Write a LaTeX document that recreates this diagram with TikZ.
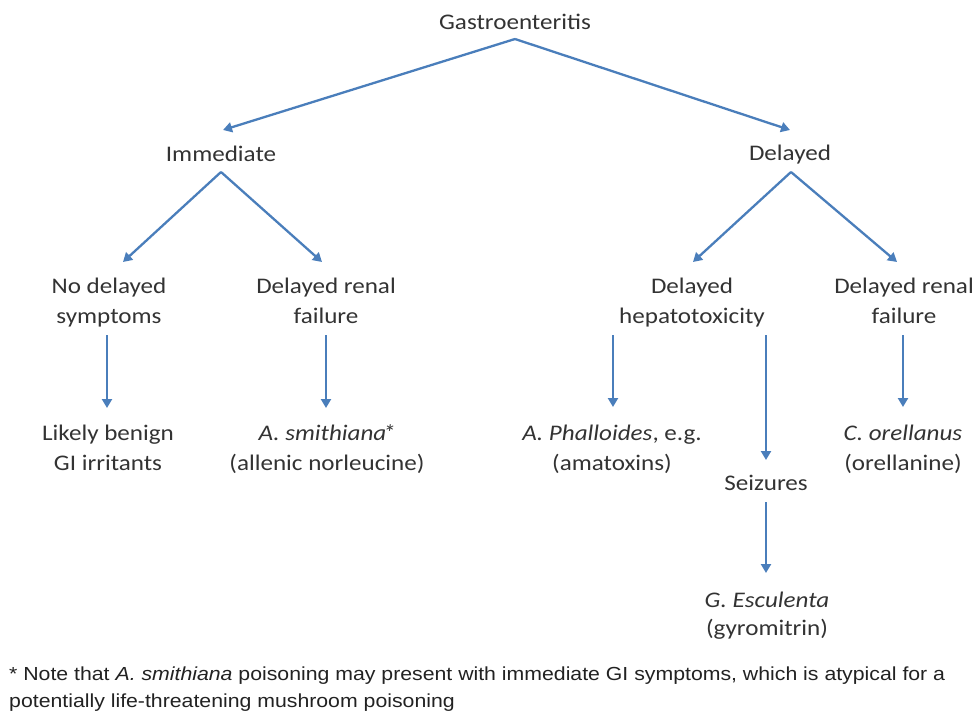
\documentclass[tikz,border=0pt]{standalone}
\usepackage{fontspec}
\setmainfont[FakeStretch=1.125]{Carlito}
\newfontfamily\fnfont[FakeStretch=1.125]{Liberation Sans}
\usetikzlibrary{calc,arrows.meta}
\definecolor{arrblue}{HTML}{4A7EBB}
\definecolor{txtgray}{HTML}{333333}
\definecolor{fngray}{HTML}{222222}
\begin{document}
\begin{tikzpicture}[x=1pt,y=-1pt,
  lbl/.style={anchor=base, inner sep=0pt, align=center, text=txtgray, font=\fontsize{22.3}{30}\selectfont},
  arr/.style={draw=arrblue, line width=2.3pt, -{Triangle[length=9pt,width=10pt]}},
]
\useasboundingbox[fill=white] (0,0) rectangle (978,715);

% single-line nodes: base = baseline; two-line nodes: base = baseline of last line
\node[lbl] (g) at (515,29.5) {Gastroenteritis};
\node[lbl] (im) at (221,161) {Immediate};
\node[lbl] (de) at (790,160) {Delayed};
\node[lbl] (nd) at (109,323) {No delayed\\symptoms};
\node[lbl] (dr1) at (326,323) {Delayed renal\\failure};
\node[lbl] (dh) at (692,323) {Delayed\\hepatotoxicity};
\node[lbl] (dr2) at (904,323) {Delayed renal\\failure};
\node[lbl] (lb) at (108,470) {Likely benign\\GI irritants};
\node[lbl] (as) at (327,470) {\textit{A. smithiana\kern-3.5pt*}\\(allenic norleucine)};
\node[lbl] (ap) at (612,470) {\textit{A. Phalloides}, e.g.\\(amatoxins)};
\node[lbl] (co) at (903,470) {\textit{C. orellanus}\\(orellanine)};
\node[lbl] (sz) at (766,490) {Seizures};
\node[lbl] (ge) at (767,635) {\textit{G. Esculenta}\\[-2pt](gyromitrin)};

\node[anchor=base west, inner sep=0pt, align=left, text=fngray,
      font=\fnfont\fontsize{18.9}{27}\selectfont] (fn) at (9,707)
  {* Note that \textit{A. smithiana} poisoning may present with immediate GI symptoms, which is atypical for a\\potentially life-threatening mushroom poisoning};

\draw[arr] ($(g.base)+(0,9.5)$) -- ($(im.base)+(2,-31)$);
\draw[arr] ($(g.base)+(0,9.5)$) -- ($(de.base)+(0,-30)$);
\draw[arr] ($(im.base)+(0,11)$) -- ($(nd.base)+(14,-61)$);
\draw[arr] ($(im.base)+(0,11)$) -- ($(dr1.base)+(-4,-61)$);
\draw[arr] ($(de.base)+(1,12)$) -- ($(dh.base)+(1,-61)$);
\draw[arr] ($(de.base)+(1,12)$) -- ($(dr2.base)+(-7,-61)$);
\draw[arr] ($(nd.base -| lb.base)+(-1,12)$) -- ($(lb.base)+(-1,-62)$);
\draw[arr] ($(dr1.base -| as.base)+(-1,12)$) -- ($(as.base)+(-1,-62)$);
\draw[arr] ($(dh.base -| ap.base)+(1,12)$) -- ($(ap.base)+(1,-63)$);
\draw[arr] ($(dh.base -| sz.base)+(0,12)$) -- ($(sz.base)+(0,-30)$);
\draw[arr] ($(dr2.base -| co.base)+(0,12)$) -- ($(co.base)+(0,-63)$);
\draw[arr] ($(sz.base)+(0,12)$) -- ($(ge.base -| sz.base)+(0,-62)$);
\end{tikzpicture}
\end{document}
